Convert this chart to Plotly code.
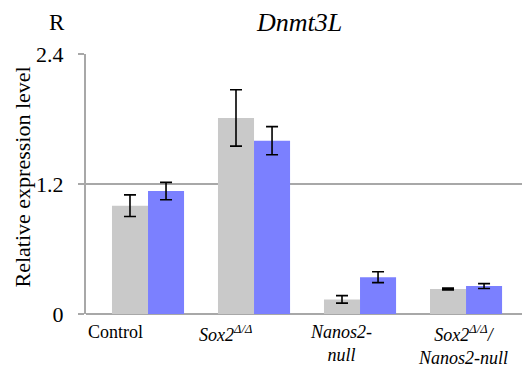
import plotly.graph_objects as go

# Relative Dnmt3L expression per genotype, two series
categories = ["Control", "Sox2ΔΔ", "Nanos2-null", "Sox2ΔΔ/Nanos2-null"]
category_labels = [
    "Control",
    "<i>Sox2<sup>Δ/Δ</sup></i>",
    "<i>Nanos2-</i><br><i>null</i>",
    "<i>Sox2<sup>Δ/Δ</sup>/</i><br><i>Nanos2-null</i>",
]
series_a = [1.00, 1.81, 0.135, 0.231]
series_a_err = [0.10, 0.26, 0.035, 0.008]
series_b = [1.135, 1.60, 0.34, 0.258]
series_b_err = [0.08, 0.13, 0.05, 0.022]
y_ticks = [0, 1.2, 2.4]

FONT = "Times New Roman, Liberation Serif, DejaVu Serif, serif"
GRID = "#a8a8a8"
x_idx = list(range(len(categories)))

fig = go.Figure()
fig.add_trace(go.Bar(
    x=x_idx, y=series_a, marker_color="#c9c9c9", marker_line_width=0,
    error_y=dict(type="data", array=series_a_err, color="black", thickness=1.6, width=6),
    showlegend=False,
))
fig.add_trace(go.Bar(
    x=x_idx, y=series_b, marker_color="#7b80ff", marker_line_width=0,
    error_y=dict(type="data", array=series_b_err, color="black", thickness=1.6, width=6),
    showlegend=False,
))

# category labels sit slightly left of each bar pair
label_offsets = [-0.31, -0.27, -0.18, -0.03]
annotations = []
for i, (lab, off) in enumerate(zip(category_labels, label_offsets)):
    annotations.append(dict(
        x=i + off, xref="x", y=-0.022, yref="paper", xanchor="center", yanchor="top",
        text=lab, showarrow=False, align="center",
        font=dict(family=FONT, size=18, color="black"),
    ))
annotations += [
    dict(x=0.4885, y=1.123, xref="paper", yref="paper", xanchor="center", yanchor="middle",
         text="<i>Dnmt3L</i>", showarrow=False,
         font=dict(family=FONT, size=26, color="black")),
    dict(x=-0.0665, y=1.123, xref="paper", yref="paper", xanchor="center", yanchor="middle",
         text="R", showarrow=False, font=dict(family=FONT, size=23, color="black")),
    dict(x=-0.1468, y=0.529, xref="paper", yref="paper", xanchor="center", yanchor="middle",
         text="Relative expression level", textangle=-90, showarrow=False,
         font=dict(family=FONT, size=22, color="black")),
]

fig.update_layout(
    width=522, height=371,
    margin=dict(l=86, r=0, t=54, b=57),
    paper_bgcolor="white", plot_bgcolor="white",
    barmode="group", bargap=0.32, bargroupgap=0,
    annotations=annotations,
    font=dict(family=FONT, color="black"),
)
fig.update_xaxes(
    range=[-0.585, 3.528], showticklabels=False, ticks="", showgrid=False,
    zeroline=False, showline=False,
)
fig.update_yaxes(
    range=[0, 2.4], tickvals=y_ticks, ticktext=["0", "1.2", "2.4"],
    showgrid=True, gridcolor=GRID, gridwidth=2,
    zeroline=True, zerolinecolor=GRID, zerolinewidth=2,
    showline=True, linecolor=GRID, linewidth=2,
    ticks="outside", ticklen=6, tickcolor=GRID, tickwidth=2,
    ticklabelstandoff=10,
    tickfont=dict(family=FONT, size=22, color="black"),
)

fig.write_html("out.html")
